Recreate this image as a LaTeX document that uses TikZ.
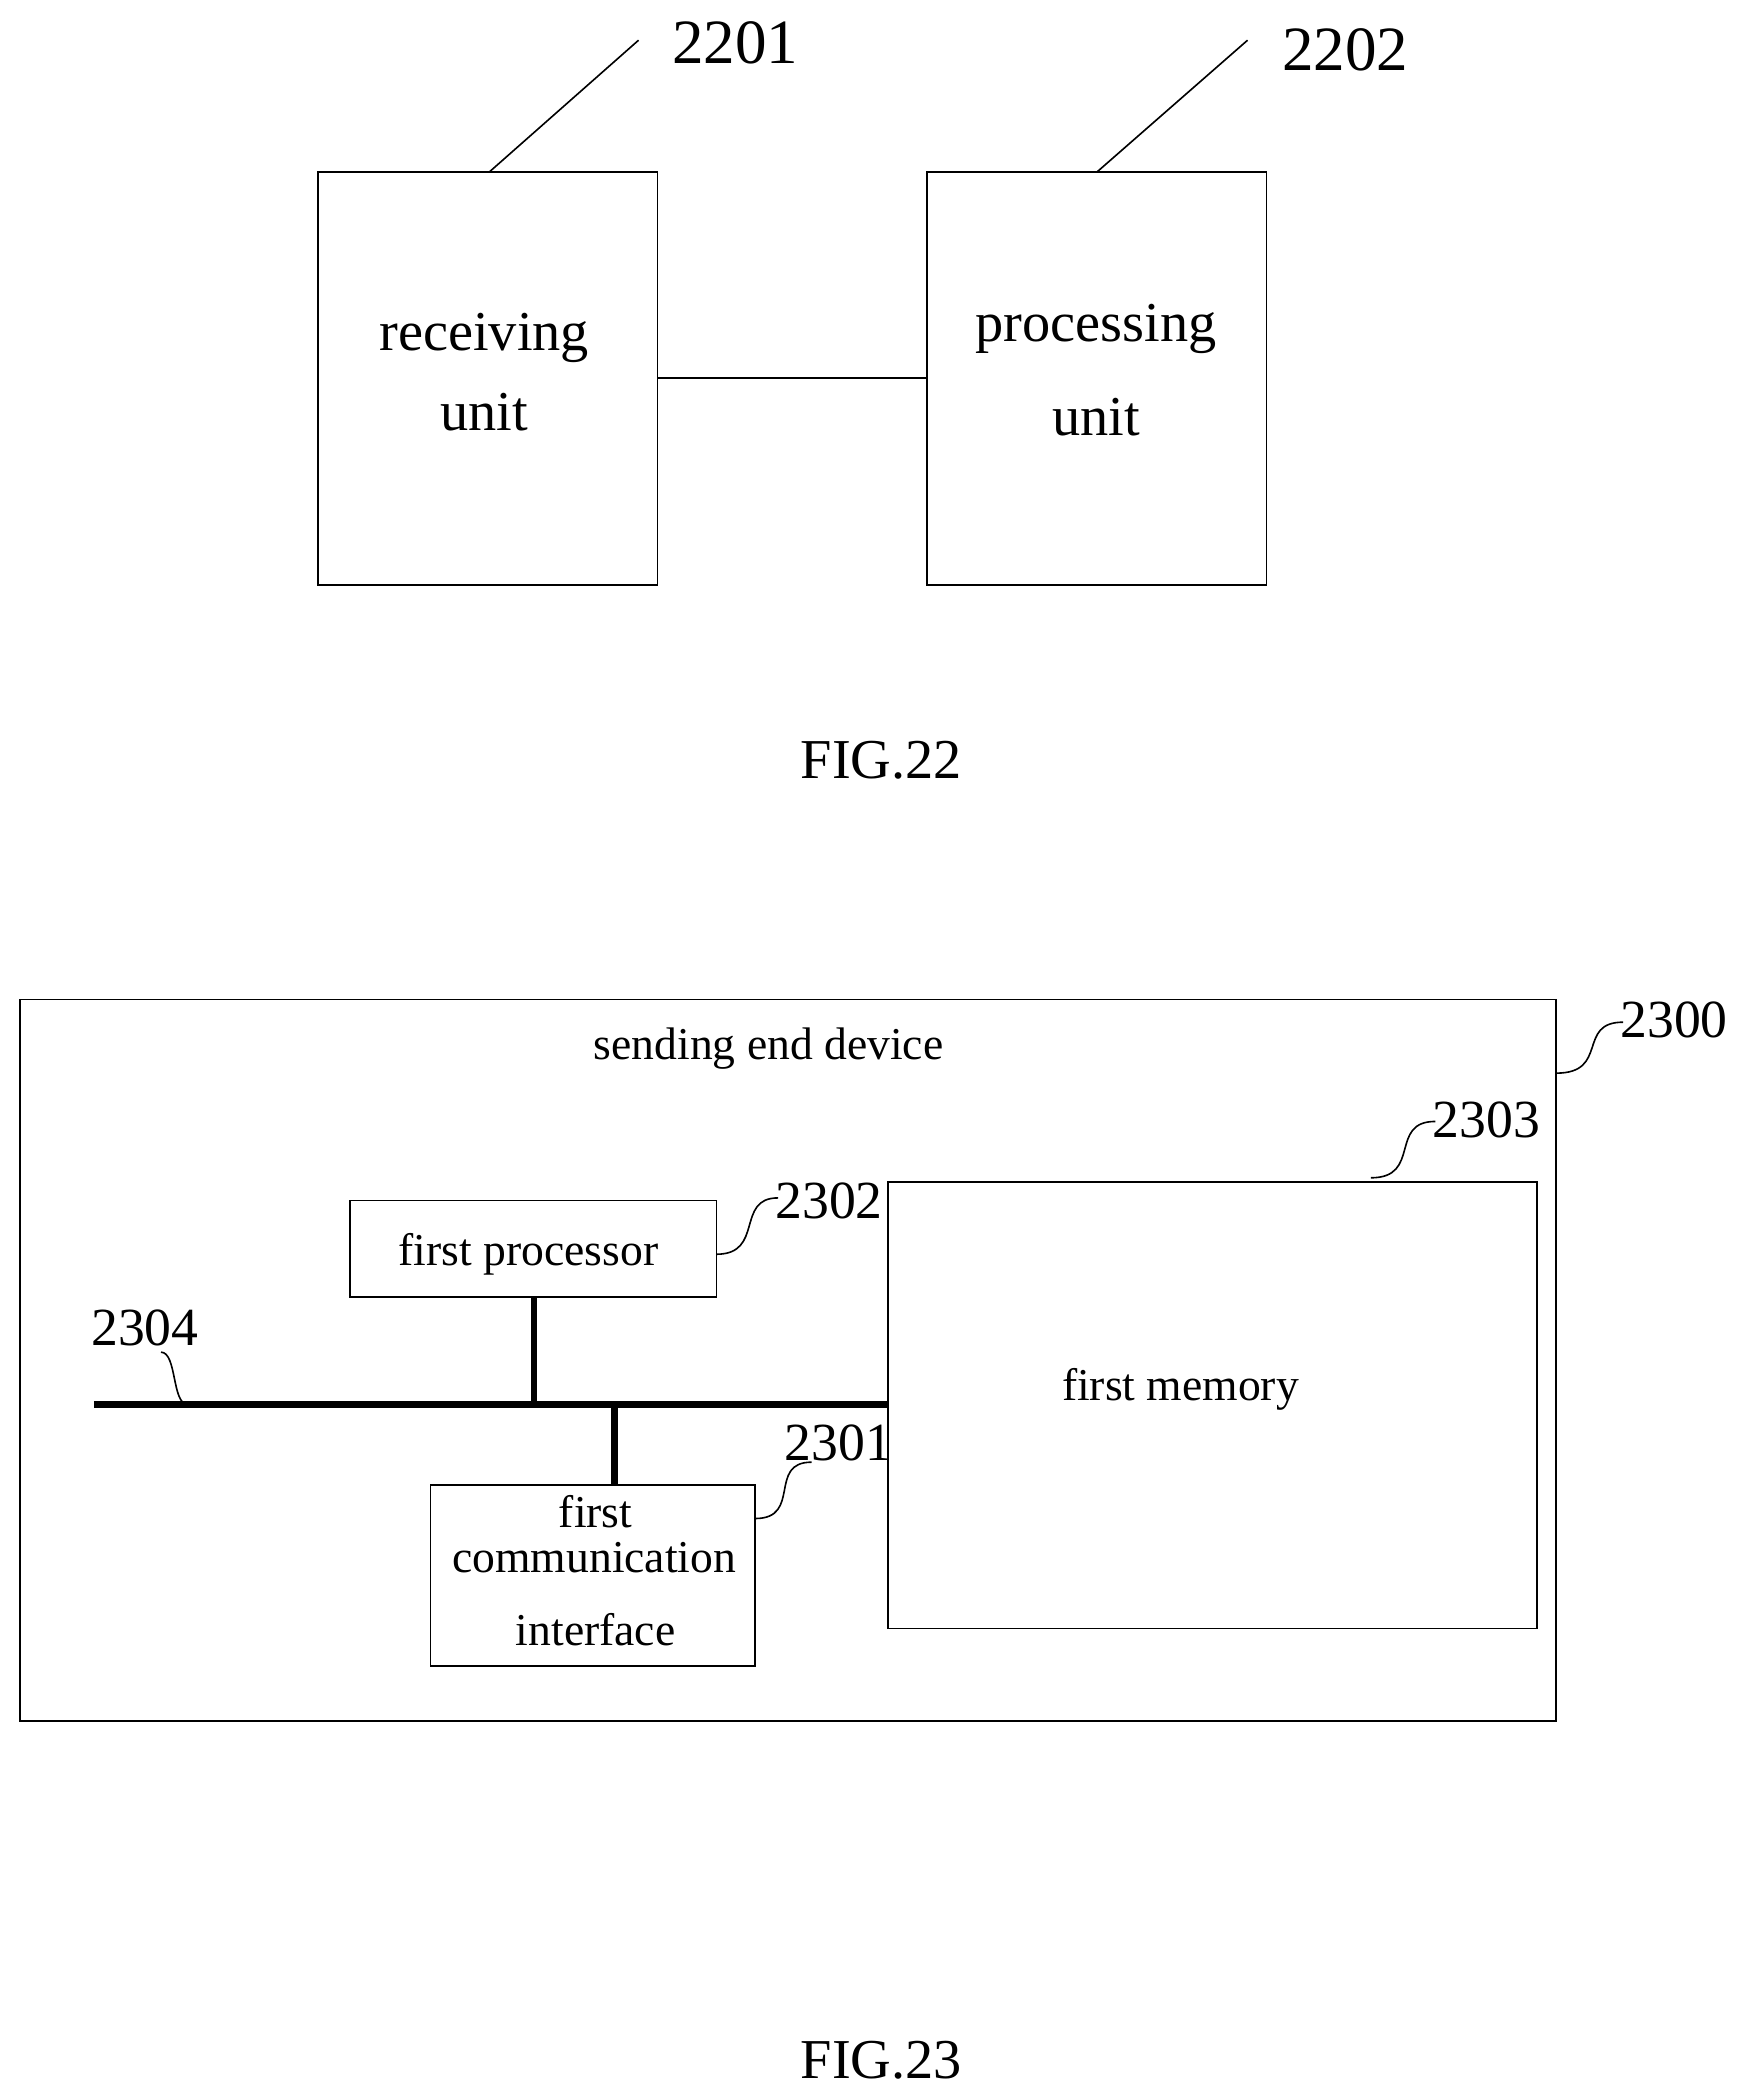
\documentclass[tikz,border=0pt]{standalone}
\usepackage{fontspec}
\setmainfont{Liberation Serif}
\begin{document}
\begin{tikzpicture}[x=1pt,y=-1pt,
  box/.style={draw,line width=1.2pt},
  txt/.style={inner sep=0pt,font=\fontsize{34}{36}\selectfont},
  big/.style={inner sep=0pt,font=\fontsize{42}{44}\selectfont},
  lbl/.style={inner sep=0pt,font=\fontsize{40}{42}\selectfont},
  lbb/.style={inner sep=0pt,font=\fontsize{47}{49}\selectfont},
  lead/.style={line width=1.2pt},
  bus/.style={line width=5pt}]
\useasboundingbox (0,0) rectangle (1300,1564);
% FIG 22
\draw[box] (237,128) rectangle (490,436);
\draw[box] (691,128) rectangle (944,436);
\coordinate (b1r) at (490,282); \coordinate (b2l) at (691,282);
\draw[lead] (b1r) -- (b2l);
\node[big] (t1) at (361,252) {receiving};
\node[big] (t2) at (361,307) {unit};
\node[big] (t3) at (817,245) {processing};
\node[big] (t4) at (817,311) {unit};
\coordinate (l1a) at (365,128); \coordinate (l1b) at (476,30);
\coordinate (l2a) at (818,128); \coordinate (l2b) at (930,30);
\draw[lead] (l1a) -- (l1b); \draw[lead] (l2a) -- (l2b);
\node[lbb] (n2201) at (548,32) {2201};
\node[lbb] (n2202) at (1003,37) {2202};
\node[big] (f22) at (657,567) {FIG.22};
% FIG 23
\draw[box] (15,745) rectangle (1160,1283);
\node[txt] (sed) at (573,782) {sending end device};
\coordinate (s0a) at (1160,800); \coordinate (s0b) at (1210,762);
\draw[lead] (s0a) .. controls (1200,800) and (1175,762) .. (s0b);
\node[lbl] (n2300) at (1248,760) {2300};
\draw[box] (662,881) rectangle (1146,1214);
\node[txt] (mem) at (880,1036) {first memory};
\coordinate (s3a) at (1022,878); \coordinate (s3b) at (1070,836);
\draw[lead] (s3a) .. controls (1060,878) and (1035,836) .. (s3b);
\node[lbl] (n2303) at (1108,835) {2303};
\draw[box] (261,895) rectangle (534,967);
\node[txt] (proc) at (394,935) {first processor};
\coordinate (s2a) at (534,935); \coordinate (s2b) at (580,893);
\draw[lead] (s2a) .. controls (570,935) and (548,893) .. (s2b);
\node[lbl] (n2302) at (618,895) {2302};
\coordinate (busl) at (70,1047); \coordinate (busr) at (662,1047);
\draw[bus] (busl) -- (busr);
\coordinate (pb) at (398,967); \coordinate (pj) at (398,1047);
\draw[bus] (pb) -- (pj);
\coordinate (cj) at (458,1047); \coordinate (ct) at (458,1107);
\draw[bus] (cj) -- (ct);
\draw[box] (321,1107) rectangle (563,1242);
\node[txt] (c1) at (444,1127) {first};
\node[txt] (c2) at (443,1161) {communication};
\node[txt] (c3) at (444,1215) {interface};
\coordinate (s1a) at (563,1132); \coordinate (s1b) at (605,1090);
\draw[lead] (s1a) .. controls (598,1132) and (572,1090) .. (s1b);
\node[lbl] (n2301) at (625,1076) {2301};
\coordinate (s4a) at (120,1008); \coordinate (s4b) at (140,1047);
\draw[lead] (s4a) .. controls (132,1008) and (128,1047) .. (s4b);
\node[lbl] (n2304) at (108,990) {2304};
\node[big] (f23) at (657,1536) {FIG.23};
\end{tikzpicture}
\end{document}
